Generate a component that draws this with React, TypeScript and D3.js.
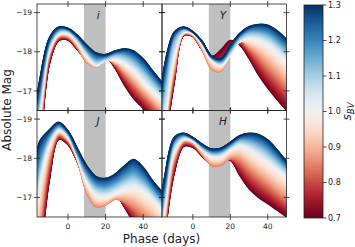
import React, { useRef, useEffect } from "react";
import * as d3 from "d3";

// phase grid (days) shared by every template curve
const phases = [-18, -15, -10, -5, 0, 5, 10, 15, 20, 25, 30, 35, 40, 45, 50];
// s_BV values of the anchor curves
const sbvAnchors = [0.7, 0.85, 1.0, 1.15, 1.3];
const bandNames = ["i", "Y", "J", "H"];

// absolute magnitudes, one row per anchor s_BV
const magI = [
  [-14.5, -15.5, -17.66, -18.28, -18.3, -18.05, -17.82, -17.85, -17.88, -17.58, -17.15, -16.8, -16.55, -16.3, -16.05],
  [-15.0, -15.9, -17.9, -18.38, -18.38, -18.12, -17.72, -17.62, -17.8, -17.7, -17.45, -17.18, -16.92, -16.68, -16.42],
  [-15.5, -16.5, -18.05, -18.45, -18.47, -18.25, -17.9, -17.65, -17.78, -17.8, -17.7, -17.52, -17.25, -17.0, -16.8],
  [-16.0, -16.9, -18.2, -18.55, -18.55, -18.35, -18.03, -17.8, -17.85, -17.95, -17.93, -17.8, -17.57, -17.3, -17.02],
  [-16.4, -17.3, -18.35, -18.63, -18.6, -18.42, -18.17, -17.97, -17.93, -18.02, -18.08, -18.02, -17.82, -17.52, -17.22],
];
const magY = [
  [-14.8, -15.6, -17.2, -18.41, -18.39, -18.05, -17.88, -18.05, -18.29, -18.17, -17.83, -17.41, -17.07, -16.77, -16.5],
  [-15.2, -16.0, -17.5, -18.45, -18.42, -18.05, -17.55, -17.5, -17.95, -18.3, -18.1, -17.88, -17.62, -17.37, -17.11],
  [-15.6, -16.3, -17.9, -18.5, -18.47, -18.2, -17.8, -17.66, -17.92, -18.25, -18.33, -18.29, -18.18, -17.98, -17.75],
  [-16.2, -17.2, -18.35, -18.58, -18.5, -18.24, -17.85, -17.75, -18.05, -18.38, -18.52, -18.52, -18.45, -18.28, -18.05],
  [-16.6, -17.7, -18.5, -18.63, -18.51, -18.26, -17.89, -17.83, -18.17, -18.47, -18.64, -18.7, -18.68, -18.54, -18.32],
];
const magJ = [
  [-14.0, -15.3, -17.4, -18.48, -18.35, -17.9, -17.3, -17.1, -17.2, -17.12, -16.75, -16.35, -16.0, -15.7, -15.4],
  [-14.8, -16.2, -17.95, -18.6, -18.45, -17.95, -17.1, -16.75, -16.8, -16.95, -16.9, -16.75, -16.55, -16.35, -16.1],
  [-16.2, -17.4, -18.35, -18.72, -18.55, -18.0, -17.4, -17.05, -17.0, -17.1, -17.2, -17.25, -17.15, -16.95, -16.7],
  [-16.9, -17.9, -18.55, -18.82, -18.63, -18.12, -17.6, -17.3, -17.25, -17.35, -17.5, -17.6, -17.45, -17.2, -16.92],
  [-17.7, -18.45, -18.72, -18.92, -18.7, -18.25, -17.81, -17.53, -17.49, -17.6, -17.81, -17.97, -17.77, -17.43, -17.15],
];
const magH = [
  [-14.5, -16.0, -17.6, -18.3, -18.28, -18.05, -17.85, -17.92, -17.95, -17.56, -17.22, -17.0, -16.84, -16.67, -16.5],
  [-15.0, -16.3, -17.95, -18.42, -18.38, -18.1, -17.82, -17.82, -18.0, -17.95, -17.72, -17.52, -17.33, -17.13, -16.95],
  [-15.6, -16.8, -18.2, -18.5, -18.45, -18.22, -18.05, -18.05, -18.22, -18.33, -18.22, -18.05, -17.88, -17.7, -17.52],
  [-16.2, -17.2, -18.4, -18.58, -18.5, -18.3, -18.15, -18.17, -18.33, -18.48, -18.46, -18.37, -18.2, -17.98, -17.75],
  [-16.6, -17.56, -18.53, -18.64, -18.53, -18.36, -18.24, -18.26, -18.41, -18.58, -18.64, -18.61, -18.47, -18.22, -17.92],
];
const bandMags = [magI, magY, magJ, magH];

const xTicks = [0, 20, 40];
const yTicks = [-19, -18, -17];
const cbarTicks = [0.7, 0.8, 0.9, 1.0, 1.1, 1.2, 1.3];
const shade = [8.5, 20];

export default function App() {
  const ref = useRef<SVGSVGElement>(null);

  useEffect(() => {
    if (!ref.current) return;
    const svg = d3.select(ref.current);
    svg.selectAll("*").remove();
    const font = "DejaVu Sans";
    const ink = "#222";

    const cols = [[37, 162], [162, 286.5]];
    const rows = [[4, 110.5], [110.5, 217]];
    const color = d3.scaleSequential(d3.interpolateRdBu).domain([0.7, 1.3]);
    const nCurves = 110;

    // curves for intermediate s_BV are blended from the two nearest anchors
    const curveFor = (mags: number[][], s: number) => {
      let k = 0;
      while (k < sbvAnchors.length - 2 && s > sbvAnchors[k + 1]) k++;
      const t = (s - sbvAnchors[k]) / (sbvAnchors[k + 1] - sbvAnchors[k]);
      return phases.map((p, j) => [p, d3.interpolateNumber(mags[k][j], mags[k + 1][j])(t)] as [number, number]);
    };

    bandNames.forEach((band, i) => {
      const c = i % 2, r = Math.floor(i / 2);
      const [x0, x1] = cols[c];
      const [y0, y1] = rows[r];
      const x = d3.scaleLinear().domain([-16.5, 50]).range([x0, x1]);
      const y = d3.scaleLinear().domain([-19.22, -16.5]).range([y0, y1]);
      const g = svg.append("g");
      const clipId = "clip" + i;
      g.append("clipPath").attr("id", clipId)
        .append("rect").attr("x", x0).attr("y", y0).attr("width", x1 - x0).attr("height", y1 - y0);

      const body = g.append("g").attr("clip-path", `url(#${clipId})`);
      body.append("rect")
        .attr("x", x(shade[0])).attr("width", x(shade[1]) - x(shade[0]))
        .attr("y", y0).attr("height", y1 - y0)
        .attr("fill", "#bfbfbf");

      const line = d3.line<[number, number]>()
        .x((d) => x(d[0]))
        .y((d) => y(d[1]))
        .curve(d3.curveCatmullRom.alpha(0.5));

      d3.range(nCurves).forEach((n) => {
        const s = 0.7 + (0.6 * n) / (nCurves - 1);
        body.append("path")
          .datum(curveFor(bandMags[i], s))
          .attr("fill", "none")
          .attr("stroke", color(s))
          .attr("stroke-width", 1.3)
          .attr("d", line);
      });

      body.append("text")
        .attr("x", x(16)).attr("y", y0 + 14.5)
        .attr("text-anchor", "middle")
        .attr("font-family", font).attr("font-style", "italic")
        .attr("font-size", 10.5).attr("fill", ink)
        .text(band);

      // frame
      g.append("rect")
        .attr("x", x0).attr("y", y0).attr("width", x1 - x0).attr("height", y1 - y0)
        .attr("fill", "none").attr("stroke", ink).attr("stroke-width", 0.8);

      // in-out ticks on all four sides
      xTicks.forEach((t) => {
        [y0, y1].forEach((yy) => {
          g.append("line").attr("x1", x(t)).attr("x2", x(t))
            .attr("y1", yy - 3).attr("y2", yy + 3)
            .attr("stroke", ink).attr("stroke-width", 0.8);
        });
      });
      yTicks.forEach((t) => {
        [x0, x1].forEach((xx) => {
          g.append("line").attr("y1", y(t)).attr("y2", y(t))
            .attr("x1", xx - 3).attr("x2", xx + 3)
            .attr("stroke", ink).attr("stroke-width", 0.8);
        });
      });

      if (c === 0) {
        yTicks.forEach((t) => {
          g.append("text")
            .attr("x", x0 - 5).attr("y", y(t)).attr("dy", "0.35em")
            .attr("text-anchor", "end")
            .attr("font-family", font).attr("font-size", 7.5).attr("fill", ink)
            .text(d3.format("")(t).replace("-", "\u2212"));
        });
      }
      if (r === 1) {
        xTicks.forEach((t) => {
          g.append("text")
            .attr("x", x(t)).attr("y", y1 + 12)
            .attr("text-anchor", "middle")
            .attr("font-family", font).attr("font-size", 7.5).attr("fill", ink)
            .text(String(t));
        });
      }
    });

    // axis titles
    svg.append("text")
      .attr("transform", "translate(11,110) rotate(-90)")
      .attr("text-anchor", "middle")
      .attr("font-family", font).attr("font-size", 12).attr("fill", ink)
      .text("Absolute Mag");
    svg.append("text")
      .attr("x", 161.5).attr("y", 243)
      .attr("text-anchor", "middle")
      .attr("font-family", font).attr("font-size", 12).attr("fill", ink)
      .text("Phase (days)");

    // colorbar
    const cbX = 304, cbW = 19, cbTop = 5, cbBottom = 218;
    const cy = d3.scaleLinear().domain([0.7, 1.3]).range([cbBottom, cbTop]);
    const grad = svg.append("defs").append("linearGradient")
      .attr("id", "cbgrad").attr("x1", 0).attr("x2", 0).attr("y1", 1).attr("y2", 0);
    d3.range(0, 1.0001, 0.05).forEach((f) => {
      grad.append("stop").attr("offset", f).attr("stop-color", d3.interpolateRdBu(f));
    });
    svg.append("rect")
      .attr("x", cbX).attr("y", cbTop).attr("width", cbW).attr("height", cbBottom - cbTop)
      .attr("fill", "url(#cbgrad)").attr("stroke", ink).attr("stroke-width", 0.8);
    cbarTicks.forEach((t) => {
      svg.append("line")
        .attr("x1", cbX + cbW).attr("x2", cbX + cbW + 3.5)
        .attr("y1", cy(t)).attr("y2", cy(t))
        .attr("stroke", ink).attr("stroke-width", 0.8);
      svg.append("text")
        .attr("x", cbX + cbW + 5).attr("y", cy(t)).attr("dy", "0.35em")
        .attr("font-family", font).attr("font-size", 8).attr("fill", ink)
        .text(d3.format(".1f")(t));
    });
    const lab = svg.append("text")
      .attr("transform", `translate(351,${(cbTop + cbBottom) / 2}) rotate(-90)`)
      .attr("text-anchor", "middle")
      .attr("font-family", font).attr("fill", ink).attr("font-style", "italic");
    lab.append("tspan").attr("font-size", 12).text("s");
    lab.append("tspan").attr("font-size", 8.5).attr("dy", 2.5).text("BV");
  }, []);

  return <svg ref={ref} width={355} height={247} style={{ position: "absolute", left: 0, top: 0 }} />;
}
